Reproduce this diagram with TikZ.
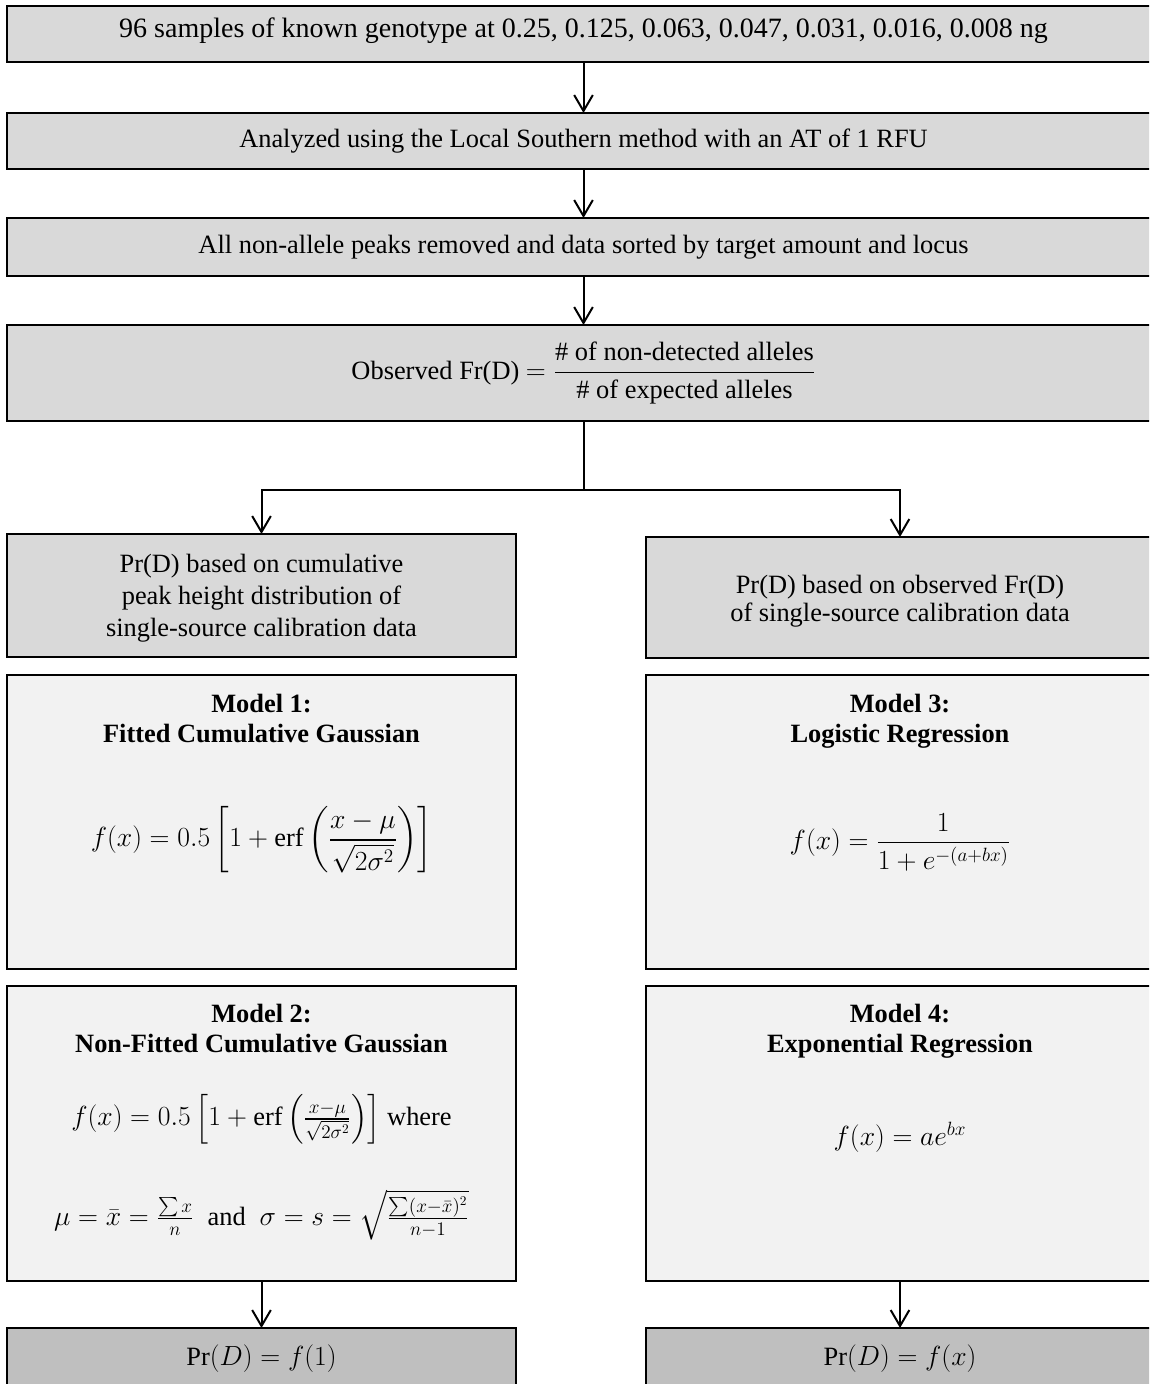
\documentclass[tikz,border=0pt]{standalone}
\usepackage{amsmath}
\usepackage{fontspec}
\setmainfont{Liberation Serif}
\usetikzlibrary{arrows.meta}
\definecolor{topgray}{HTML}{D9D9D9}
\definecolor{modelfill}{HTML}{F2F2F2}
\definecolor{endgray}{HTML}{BFBFBF}
\begin{document}
\begin{tikzpicture}[x=0.75pt,y=-0.75pt,
  every node/.style={inner sep=0pt, outer sep=0pt, font=\fontsize{19.8}{24}\selectfont},
  boxbase/.style={draw=black, line width=1.5pt, rectangle, align=center},
  topbox/.style={boxbase, fill=topgray, minimum width=864.75pt},
  sidebox/.style={boxbase, fill=topgray, minimum width=381.5pt},
  modelbox/.style={boxbase, fill=modelfill, minimum width=381.5pt},
  endbox/.style={boxbase, fill=endgray, minimum width=381.5pt},
  titletext/.style={align=center, font=\fontsize{19.8}{22.5}\selectfont\bfseries},
  formula/.style={align=center},
  conn/.style={draw=black, line width=1.5pt},
  arr/.style={conn, -{Straight Barb[length=12pt, width=14pt]}}]
\useasboundingbox (0,0) rectangle (1149,1384);
\clip (0,0) rectangle (1149,1384);

% top chain
\node[topbox, minimum height=42pt] (b1) at (583.5,34) {};
\node[font=\fontsize{21}{24}\selectfont] (b1t) at (583.5,31) {96 samples of known genotype at 0.25, 0.125, 0.063, 0.047, 0.031, 0.016, 0.008 ng};
\node[topbox, minimum height=42pt] (b2) at (583.5,141) {Analyzed using the Local Southern method with an AT of 1 RFU};
\node[topbox, minimum height=43.5pt] (b3) at (583.5,247) {All non-allele peaks removed and data sorted by target amount and locus};
\node[topbox, minimum height=72pt] (b4) at (583.5,373) {Observed Fr(D) $= \dfrac{\text{\# of non-detected alleles}}{\text{\# of expected alleles}}$};

% second level
\node[sidebox, minimum height=92.25pt] (lg) at (261.5,595.5) {};
\node[align=center] (lgt) at (261.5,598.5) {Pr(D) based on cumulative\\peak height distribution of\\single-source calibration data};
\node[sidebox, minimum height=90.75pt] (rg) at (900,597.5) {};
\node[align=center] (rgt) at (900,601) {Pr(D) based on observed Fr(D)\\[-3pt]of single-source calibration data};

% model boxes
\node[modelbox, minimum height=220.5pt] (m1) at (261.5,822) {};
\node[modelbox, minimum height=220.5pt] (m3) at (900,822) {};
\node[modelbox, minimum height=221.25pt] (m2) at (261.5,1133.5) {};
\node[modelbox, minimum height=221.25pt] (m4) at (900,1133.5) {};

\node[titletext] (m1t) at (261.5,722.5) {Model 1:\\Fitted Cumulative Gaussian\strut};
\node[formula] (m1f) at (261.5,840) {$f(x) = 0.5\left[1+\operatorname{erf}\left(\dfrac{x-\mu}{\sqrt{2\sigma^2}}\right)\right]$};

\node[titletext] (m3t) at (900,722.5) {Model 3:\\Logistic Regression\strut};
\node[formula] (m3f) at (900,842) {$f(x) = \dfrac{1}{1+e^{-(a+bx)}}$};

\node[titletext] (m2t) at (261.5,1032.5) {Model 2:\\Non-Fitted Cumulative Gaussian\strut};
\node[formula] (m2f) at (261.5,1119) {$f(x) = 0.5\left[1+\operatorname{erf}\left(\tfrac{x-\mu}{\sqrt{2\sigma^2}}\right)\right]$ where};
\node[formula] (m2g) at (261.5,1215) {$\mu=\bar{x}=\tfrac{\sum x}{n}$\; and \;$\sigma = s = \sqrt{\tfrac{\sum(x-\bar{x})^2}{n-1}}$};

\node[titletext] (m4t) at (900,1032.5) {Model 4:\\Exponential Regression\strut};
\node[formula] (m4f) at (900,1137) {$f(x) = ae^{bx}$};

% end boxes
\node[endbox, minimum height=84pt] (lb) at (261.5,1384) {};
\node[endbox, minimum height=84pt] (rb) at (900,1384) {};
\node (lbt) at (261.5,1359) {$\Pr(D) = f(1)$};
\node (rbt) at (900,1359) {$\Pr(D) = f(x)$};

% connectors
\draw[arr] (b1) -- (b2);
\draw[arr] (b2) -- (b3);
\draw[arr] (b3) -- (b4);
\coordinate (split) at (583.5,490);
\draw[conn] (b4.south) -- (split);
\draw[arr] (split) -| (lg.north);
\draw[arr] (split) -| (rg.north);
\draw[arr] (m2) -- (lb);
\draw[arr] (m4) -- (rb);
\end{tikzpicture}
\end{document}
